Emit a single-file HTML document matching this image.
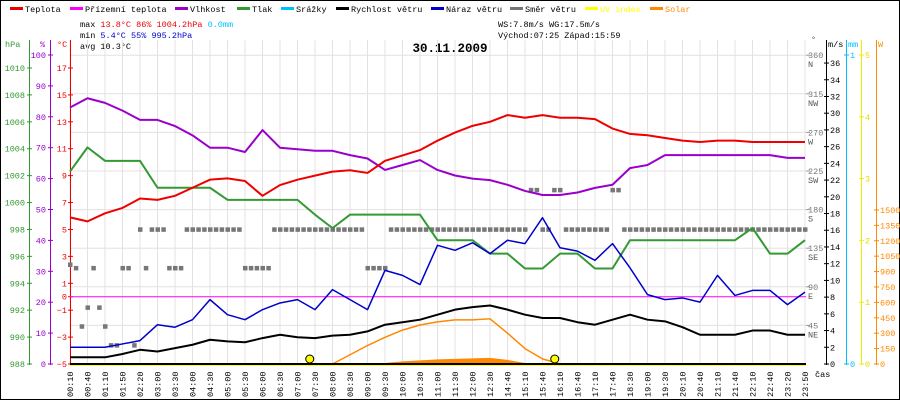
<!DOCTYPE html>
<html><head><meta charset="utf-8">
<style>
html,body{margin:0;padding:0;background:#fff}
svg{display:block;font-family:"Liberation Mono",monospace;font-size:8px}
</style></head>
<body>
<svg id="chart" width="900" height="400" viewBox="0 0 900 400" xmlns="http://www.w3.org/2000/svg">
<rect x="0.5" y="0.5" width="899" height="399" fill="#fff" stroke="#000"/>
<g id="legend"></g>
<g font-size="8.5">
<text x="80" y="27">max <tspan fill="#e00">13.8°C</tspan> <tspan fill="#e00">86%</tspan>  <tspan fill="#e00">1004.2hPa</tspan>   <tspan fill="#00bfff">0.0mm</tspan></text>
<text x="80" y="38">min  <tspan fill="#00c">5.4°C</tspan>  <tspan fill="#00c">55%</tspan>  <tspan fill="#00c">995.2hPa</tspan></text>
<text x="80" y="49">avg 10.3°C</text>
<text x="498" y="27">WS:7.8m/s    WG:17.5m/s</text>
<text x="498" y="38">Východ:07:25 Západ:15:59</text>
</g>
<text x="450" y="52" text-anchor="middle" font-size="12.5" font-weight="bold">30.11.2009</text>
<g id="grid"></g>
<g id="axes"></g>
<g id="series"></g>
</svg>
<script>
const timeLabels=["00:10","00:40","01:10","01:50","02:20","03:00","03:30","04:00","04:30","05:00","05:30","06:00","06:30","07:00","07:30","08:00","08:30","09:00","09:30","10:00","10:30","11:00","11:30","12:00","12:30","14:40","15:10","15:40","16:10","16:40","17:10","17:40","18:30","19:00","19:30","20:10","20:40","21:10","21:40","22:10","22:40","23:20","23:50"];
const temperature=[5.9,5.6,6.2,6.6,7.3,7.2,7.5,8.1,8.7,8.8,8.6,7.5,8.3,8.7,9.0,9.3,9.4,9.2,10.1,10.5,10.9,11.6,12.2,12.7,13.0,13.5,13.3,13.5,13.3,13.3,13.2,12.5,12.1,12.0,11.8,11.6,11.5,11.6,11.6,11.5,11.5,11.5,11.5];
const humidity=[83,86,84.5,82,79,79,77,74,70,70,68.6,75.7,70,69.5,69,69,67.6,66.5,62.8,64.4,66,62.8,61,60,59.5,58,56,54.7,54.7,55.5,57,58,63.4,64.4,67.6,67.6,67.6,67.6,67.6,67.6,67.6,66.7,66.7];
const pressure=[1002.3,1004.1,1003.1,1003.1,1003.1,1001.1,1001.1,1001.1,1001.1,1000.2,1000.2,1000.2,1000.2,1000.2,999.1,998.1,999.1,999.1,999.1,999.1,999.1,997.2,997.2,997.2,996.2,996.2,995.1,995.1,996.2,996.2,995.1,995.1,997.2,997.2,997.2,997.2,997.2,997.2,997.2,998.1,996.2,996.2,997.2];
const windSpeed=[0.8,0.8,0.8,1.2,1.7,1.5,1.9,2.3,2.9,2.7,2.6,3.1,3.5,3.2,3.1,3.4,3.5,3.9,4.7,5.0,5.3,5.9,6.5,6.8,7.0,6.5,5.9,5.5,5.5,5.0,4.7,5.3,5.9,5.3,5.1,4.4,3.5,3.5,3.5,4.0,4.0,3.5,3.5];
const windGust=[2.0,2.0,2.0,2.4,2.8,4.7,4.4,5.3,7.7,5.9,5.3,6.5,7.3,7.7,6.5,8.9,7.7,6.5,11.2,10.6,9.5,14.2,13.6,14.5,13.2,14.8,14.4,17.5,13.9,13.5,12.4,14.4,11.5,8.3,7.7,7.9,7.4,10.6,8.2,8.8,8.8,7.1,8.6];
const solar=[0,0,0,0,0,0,0,0,0,0,0,0,0,0,0,0,90,180,260,330,380,410,430,430,440,300,150,50,0,0,0,0,0,0,0,0,0,0,0,0,0,0,0];
const solarFill=[0,0,0,0,0,0,0,0,0,0,0,0,0,0,0,0,0,0,10,25,35,45,50,55,60,40,10,0,0,0,0,0,0,0,0,0,0,0,0,0,0,0,0];
const windDir=[116,112,44,66,112,66,44,22,22,112,112,22,157,112,157,157,157,112,112,112,157,157,157,157,157,157,157,157,157,157,112,112,112,112,112,157,157,157,157,157,157,157,157,157,157,157,157,157,157,157,157,112,112,112,112,157,157,157,157,157,157,157,157,157,157,157,157,157,157,157,157,157,157,157,157,157,157,157,157,203,203,157,157,203,203,157,157,157,157,157,157,157,157,203,203,157,157,157,157,157,157,157,157,157,157,157,157,157,157,157,157,157,157,157,157,157,157,157,157,157,157,157,157,157,157,157,157];
const sunMarks=[13.7,27.7];
const tempTicks=[-5,-3,-1,0,1,3,5,7,9,11,13,15,17];
const humTicks=[0,10,20,30,40,50,60,70,80,90,100];
const presTicks=[988,990,992,994,996,998,1000,1002,1004,1006,1008,1010];
const windTicks=[0,2,4,6,8,10,12,14,16,18,20,22,24,26,28,30,32,34,36];
const dirTicks=[45,90,135,180,225,270,315,360];
const dirNames=["NE","E","SE","S","SW","W","NW","N"];
const uvTicks=[0,1,2,3,4,5];
const solarTicks=[0,150,300,450,600,750,900,1050,1200,1350,1500];

const NS="http://www.w3.org/2000/svg";
const X0=70,DX=17.5,Y0=364;
const xI=i=>X0+DX*i;
const yT=t=>Y0-(t+5)*13.4545;
const yH=h=>Y0-h*3.09;
const yP=p=>Y0-(p-988)*13.4545;
const yW=w=>Y0-w*8.36;
const yD=d=>Y0-d*0.8578;
const yU=u=>Y0-u*61.8;
const yS=s=>Y0-s*0.1027;
function mk(tag,parent,attrs,txt){const e=document.createElementNS(NS,tag);for(const k in attrs)e.setAttribute(k,attrs[k]);if(txt!==undefined)e.textContent=txt;parent.appendChild(e);return e;}
const legend=document.getElementById('legend'),grid=document.getElementById('grid'),axes=document.getElementById('axes'),series=document.getElementById('series');

const legItems=[["Teplota","#e00",10],["Přízemní teplota","#f0f",70],["Vlhkost","#90c",175],["Tlak","#393",237],["Srážky","#00bfff",281],["Rychlost větru","#000",336],["Náraz větru","#00c",431],["Směr větru","#777",510],["UV index","#ff0",585],["Solar","#f80",650]];
legItems.forEach(it=>{
 const g=mk('g',legend,{});
 
 
 mk('rect',g,{x:it[2],y:7,width:13,height:3,fill:it[1]});
 mk('text',g,{x:it[2]+15,y:12,fill:(it[0]=="UV index"||it[0]=="Solar")?it[1]:"#000","font-size":"8.5"},it[0]);
});

timeLabels.forEach((lb,i)=>{
 const l=mk('line',grid,{x1:xI(i),x2:xI(i),y1:40,y2:Y0,stroke:"#e6e0e0"});
 
 
 const t=mk('text',grid,{transform:`translate(${xI(i)+3},397) rotate(-90)`,"font-size":"8.5"},lb);
 
 
});
dirTicks.forEach(d=>{
 const l=mk('line',grid,{x1:X0,x2:806,y1:yD(d),y2:yD(d),stroke:"#e6e0e0"});
 
 
});

function vaxis(x,color,y1){const l=mk('line',axes,{x1:x,x2:x,y1:y1,y2:Y0+1,stroke:color});}
vaxis(29.5,"#393",40);vaxis(50.5,"#90c",40);vaxis(70.5,"#e00",40);
vaxis(826.5,"#000",40);vaxis(846.5,"#00bfff",40);vaxis(861.5,"#ee0",40);vaxis(876.5,"#f80",40);
function tick(x1,x2,y,color){mk('line',axes,{x1:x1,x2:x2,y1:y,y2:y,stroke:color});}
presTicks.forEach(p=>{tick(27,32,yP(p),"#393");const t=mk('text',axes,{x:25,y:yP(p)+3,"text-anchor":"end",fill:"#393","font-size":"8.5"},p);});
humTicks.forEach(h=>{tick(48,53,yH(h),"#90c");const t=mk('text',axes,{x:46,y:yH(h)+3,"text-anchor":"end",fill:"#90c","font-size":"8.5"},h);});
tempTicks.forEach(v=>{tick(68,73,yT(v),"#e00");const t=mk('text',axes,{x:67,y:yT(v)+3,"text-anchor":"end",fill:"#e00","font-size":"8.5"},v<0?"−"+(-v):v);});
[["hPa",5,"#393"],["%",40,"#90c"],["°C",57,"#e00"]].forEach(a=>{const t=mk('text',axes,{x:a[1],y:47,fill:a[2],"font-size":"8.5"},a[0]);});
dirTicks.forEach((d,k)=>{tick(806,810,yD(d),"#999");const t=mk('text',axes,{x:808,y:yD(d)+3,fill:"#777","font-size":"8.5"},d);const n=mk('text',axes,{x:808,y:yD(d)+12,fill:"#555","font-size":"8.5"},dirNames[k]);});
windTicks.forEach(w=>{tick(824,829,yW(w),"#000");const t=mk('text',axes,{x:830,y:yW(w)+3,"font-size":"8.5"},w);});
[0,1].forEach(m=>{const y=m?55:Y0;tick(844,849,y,"#00bfff");const t=mk('text',axes,{x:850,y:y+3,fill:"#00bfff","font-size":"8.5"},m);});
uvTicks.forEach(u=>{tick(859,864,yU(u),"#ee0");const t=mk('text',axes,{x:865,y:yU(u)+3,fill:"#dd0","font-size":"8.5"},u);});
solarTicks.forEach(s=>{tick(874,879,yS(s),"#f80");const t=mk('text',axes,{x:880,y:yS(s)+3,fill:"#f80","font-size":"8.5"},s);});
[["°",811,42,"#555"],["m/s",828,47,"#000"],["mm",848,47,"#00bfff"],["W",878,47,"#f80"],["čas",815,377,"#000"]].forEach(a=>{const t=mk('text',axes,{x:a[1],y:a[2],fill:a[3],"font-size":"8.5"},a[0]);});

const zl=mk('line',series,{x1:X0,x2:806,y1:yT(0),y2:yT(0),stroke:"#f0f"});


const sf=mk('polygon',series,{points:solarFill.map((v,i)=>xI(i)+","+yS(v)).join(" ")+` ${xI(solarFill.length-1)},${Y0} ${X0},${Y0}`,fill:"#f80"});


windDir.forEach((d,j)=>{const r=mk('rect',series,{x:X0+j*5.833-2,y:yD(d)-2,width:4.5,height:4.5,fill:"#777"});
 
 });
function line(arr,fy,color,w,name){const p=mk('polyline',series,{points:arr.map((v,i)=>xI(i)+","+fy(v)).join(" "),fill:"none",stroke:color,"stroke-width":w,"stroke-linejoin":"round"});
 
 }
line(pressure,yP,"#393",2,"pressure-line");
line(humidity,yH,"#90c",2,"humidity-line");
line(temperature,yT,"#e00",2,"temperature-line");
line(windGust,yW,"#00c",1.5,"wind-gust-line");
line(windSpeed,yW,"#000",2,"wind-speed-line");
line(solar,yS,"#f80",1.5,"solar-line");
const bl=mk('line',series,{x1:X0,x2:806,y1:Y0,y2:Y0,stroke:"#000","stroke-width":2});


const ul=mk('line',series,{x1:X0,x2:806,y1:Y0+1.5,y2:Y0+1.5,stroke:"#ff0","stroke-width":1});


sunMarks.forEach(s=>{const c=mk('circle',series,{cx:xI(s),cy:359,r:4,fill:"#ff0",stroke:"#000","stroke-width":1});
 
 });
</script>
</body></html>
